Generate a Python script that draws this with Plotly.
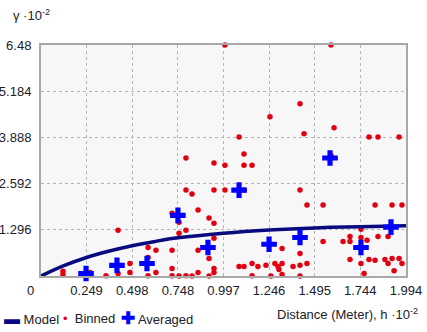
import plotly.graph_objects as go

# Semivariogram values, units of 10^-2
binned_h = [0.12, 0.12, 0.268, 0.355, 0.421, 0.421, 0.486, 0.486,
            0.585, 0.585, 0.585, 0.628, 0.628,
            0.716, 0.716, 0.716, 0.716, 0.754, 0.754, 0.754,
            0.792, 0.792, 0.792, 0.792, 0.825, 0.825,
            0.858, 0.858, 0.858, 0.918, 0.918, 0.918,
            0.945, 0.945, 0.945, 0.945, 0.945, 0.945,
            1.005, 1.005, 1.005, 1.082, 1.082,
            1.109, 1.109, 1.109, 1.109, 1.153, 1.153, 1.153,
            1.185, 1.229, 1.251, 1.256, 1.278, 1.295, 1.300,
            1.317, 1.317, 1.317, 1.377,
            1.415, 1.415, 1.415, 1.415, 1.415, 1.437, 1.453, 1.453,
            1.541, 1.541, 1.584, 1.584, 1.601, 1.650,
            1.688, 1.688, 1.688, 1.748, 1.748, 1.748, 1.765, 1.781,
            1.792, 1.792, 1.825, 1.825, 1.841, 1.841, 1.879,
            1.896, 1.896, 1.918, 1.918, 1.929, 1.956, 1.956, 1.972, 1.972]
binned_g = [0.13, 0.04, 0.10, 0.01, 1.28, 0.07, 0.35, 0.10,
            0.80, 0.52, 0.01, 0.72, 0.10,
            1.76, 0.72, 0.21, 0.01, 1.51, 1.20, 0.0,
            3.31, 2.41, 1.28, 0.01, 2.30, 0.0,
            1.85, 0.72, 0.10, 1.63, 0.49, 0.0,
            3.17, 2.41, 1.48, 1.06, 0.21, 0.10,
            6.48, 3.11, 2.41, 3.90, 0.27,
            3.42, 3.11, 2.41, 0.27, 3.11, 0.35, 0.01,
            0.27, 0.30, 4.47, 0.0, 0.35, 0.27, 0.18,
            0.77, 0.35, 0.04, 0.27,
            4.83, 2.41, 0.63, 0.30, 0.0, 3.99, 1.99, 0.35,
            1.99, 0.97, 6.48, 3.39, 4.16, 0.97,
            1.11, 0.97, 0.46, 1.31, 1.08, 0.35, 0.07, 1.00,
            3.90, 0.46, 1.99, 0.44, 3.90, 1.11, 0.46,
            1.11, 0.35, 1.99, 0.49, 0.15, 3.90, 0.49, 1.99, 0.35]

avg_h = [0.246, 0.415, 0.579, 0.748, 0.912, 1.082, 1.246, 1.415, 1.579, 1.748, 1.912]
avg_g = [0.07, 0.30, 0.35, 1.70, 0.80, 2.41, 0.89, 1.08, 3.31, 0.80, 1.37]

model_h = [0, 0.125, 0.249, 0.374, 0.498, 0.623, 0.748, 0.997, 1.246, 1.495, 1.744, 1.994]
model_g = [0, 0.29, 0.52, 0.70, 0.85, 0.97, 1.07, 1.20, 1.29, 1.35, 1.385, 1.41]

x_ticks = [0.249, 0.498, 0.748, 0.997, 1.246, 1.495, 1.744, 1.994]
y_ticks = [1.296, 2.592, 3.888, 5.184, 6.48]

FONT = "Liberation Sans, Arial, sans-serif"
TXT = "#20202c"
RED = '#e00010'
BLUE = '#0000ff'
NAVY = '#0a0a80'

fig = go.Figure()

fig.add_trace(go.Scatter(
    x=binned_h, y=binned_g, mode='markers', name='Binned',
    marker=dict(color=RED, size=5.5, symbol='circle'), cliponaxis=False))

fig.add_trace(go.Scatter(
    x=model_h, y=model_g, mode='lines', name='Model',
    line=dict(color=NAVY, width=3.5, shape='spline')))

fig.add_trace(go.Scatter(
    x=avg_h, y=avg_g, mode='markers', name='Averaged',
    marker=dict(color=BLUE, size=13, symbol='cross', line=dict(width=0)),
    cliponaxis=False))

fig.update_layout(
    width=427, height=332,
    margin=dict(l=41, r=21, t=45, b=56),
    paper_bgcolor='white', plot_bgcolor='#f7f7f7',
    font=dict(family=FONT, size=13, color=TXT),
    showlegend=False,
    xaxis=dict(range=[0, 1.994], tickvals=x_ticks, ticktext=[f'{v:.3f}' for v in x_ticks],
               showgrid=True, gridcolor='#b4b4b4', griddash='dot', gridwidth=1,
               showline=True, linecolor='#a8a8a8', linewidth=2, mirror=True,
               zeroline=False, ticks='', ticklabelstandoff=1, automargin=False),
    yaxis=dict(range=[0, 6.48], tickvals=y_ticks, ticktext=['1.296', '2.592', '3.888', '5.184', '6.48'],
               showgrid=True, gridcolor='#b4b4b4', griddash='dot', gridwidth=1,
               showline=True, linecolor='#a8a8a8', linewidth=2, mirror=True,
               zeroline=False, ticks='', ticklabelstandoff=5, automargin=False),
)

fig.add_annotation(text='0', xref='paper', yref='paper', x=-0.030, y=-0.063,
                   showarrow=False, xanchor='center', yanchor='middle')
fig.add_annotation(text='γ ·10<sup>-2</sup>', xref='paper', yref='paper', x=-0.082, y=1.13,
                   showarrow=False, xanchor='left', yanchor='middle')
fig.add_annotation(text='Distance (Meter), h ·10<sup>-2</sup>', xref='paper', yref='paper',
                   x=1.038, y=-0.165, showarrow=False, xanchor='right', yanchor='middle')

# legend row along the bottom
legend_items = [
    (f'<span style="color:{NAVY};font-size:16px"><b>▬</b></span> Model', -0.107),
    (f'<span style="color:{RED}">•</span>  Binned', 0.056),
    (f'<span style="color:{BLUE};font-size:17px"><b>✚</b></span> Averaged', 0.214),
]
for txt, xp in legend_items:
    fig.add_annotation(text=txt, xref='paper', yref='paper', x=xp, y=-0.185,
                       showarrow=False, xanchor='left', yanchor='middle')

# drop the default 8px page margin so the figure sits at the window corner
fig.write_html("out.html", config={'displayModeBar': False},
               post_script="document.body.style.margin='0';")
